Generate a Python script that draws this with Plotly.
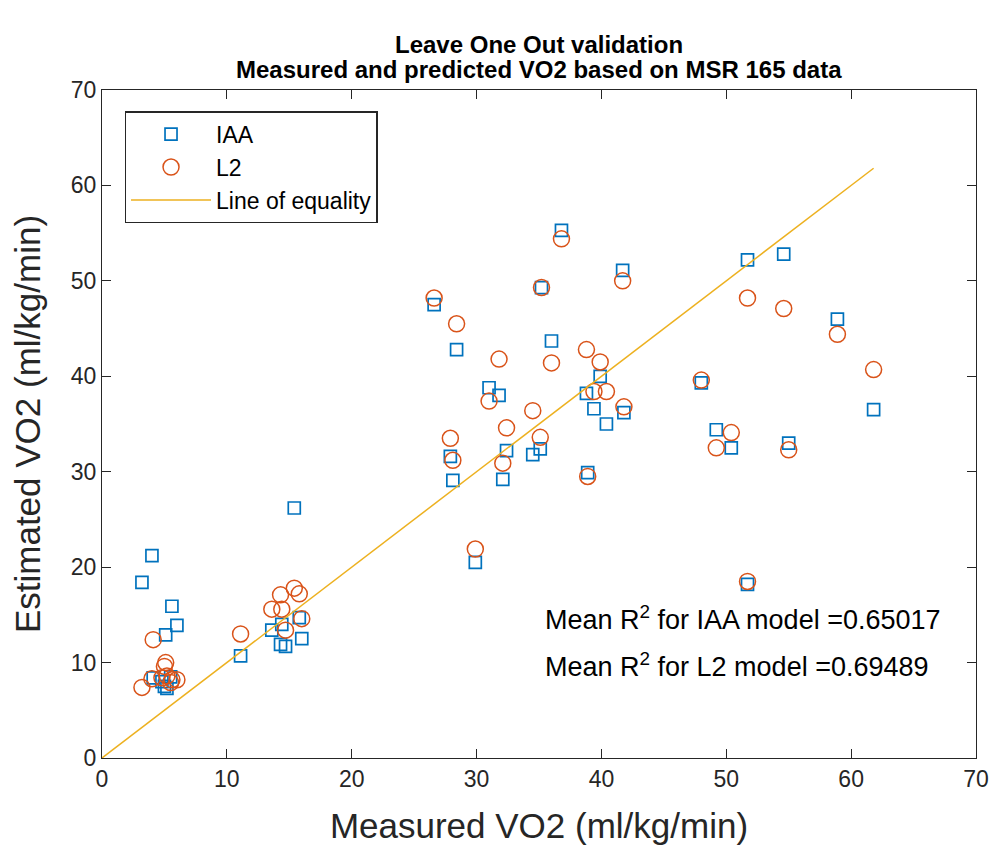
import plotly.graph_objects as go

# Measured VO2 per subject (ml/kg/min)
measured = [3.2, 4.0, 4.1, 5.1, 5.0, 5.2, 5.6, 6.0, 5.5, 4.8,
            11.1, 13.6, 14.3, 14.7, 15.4, 15.8, 16.0, 14.4,
            26.6, 28.4, 27.9, 28.1, 31.0, 31.8, 32.1, 32.4, 34.5, 35.1,
            35.2, 36.0, 36.8, 38.8, 38.9, 39.4, 39.9, 40.4, 41.7, 41.8, 29.9,
            48.0, 49.2, 50.4, 51.7, 51.7, 54.6, 55.0, 58.9, 61.8]
# Estimated VO2 by IAA model
iaa = [18.4, 21.2, 8.4, 12.9, 7.5, 7.3, 15.9, 13.9, 8.5, 8.0,
       10.7, 13.4, 11.9, 11.7, 26.2, 14.7, 12.5, 14.0,
       47.5, 42.8, 31.6, 29.1, 38.8, 38.0, 29.2, 32.2, 31.8, 32.4,
       49.3, 43.7, 55.3, 38.2, 29.9, 36.6, 40.0, 35.0, 51.1, 36.2, 20.5,
       39.3, 34.4, 32.5, 52.2, 18.2, 52.8, 33.0, 46.0, 36.5]
# Estimated VO2 by L2 model
l2 = [7.4, 8.3, 12.4, 10.0, 9.6, 8.6, 8.2, 8.2, 7.9, 8.4,
      13.0, 15.6, 17.1, 13.4, 17.8, 17.2, 14.6, 15.6,
      48.2, 45.5, 33.5, 31.2, 37.4, 41.8, 30.9, 34.6, 36.4, 33.6,
      49.3, 41.4, 54.4, 42.8, 29.5, 38.4, 41.5, 38.4, 50.0, 36.8, 21.9,
      39.6, 32.5, 34.1, 48.2, 18.5, 47.1, 32.3, 44.4, 40.7]

eq_x = [0, max(measured)]
ticks = [0, 10, 20, 30, 40, 50, 60, 70]

title_lines = ["Leave One Out validation",
               "Measured and predicted VO2 based on MSR 165 data"]
r2_texts = ["Mean R<sup>2</sup> for IAA model =0.65017",
            "Mean R<sup>2</sup> for L2 model =0.69489"]

FONT = "Liberation Sans, Arial, sans-serif"
AX = "#262626"

fig = go.Figure()
fig.add_trace(go.Scatter(x=measured, y=iaa, mode="markers", name="IAA",
                         marker=dict(symbol="square-open", size=12, color="#0072BD",
                                     line=dict(width=1.7))))
fig.add_trace(go.Scatter(x=measured, y=l2, mode="markers", name="L2",
                         marker=dict(symbol="circle-open", size=16, color="#D95319",
                                     line=dict(width=1.5))))
fig.add_trace(go.Scatter(x=eq_x, y=eq_x, mode="lines", name="Line of equality",
                         line=dict(color="#EDB120", width=1.5)))

axis_common = dict(range=[0, 70], tickvals=ticks, ticks="inside", ticklen=9,
                   tickcolor=AX, showline=True, linecolor=AX, linewidth=1.3,
                   mirror="ticks", showgrid=False, zeroline=False, automargin=False,
                   tickfont=dict(size=23, color=AX, family=FONT))

fig.update_layout(
    width=1004, height=858,
    margin=dict(l=102, r=28, t=90, b=100),
    paper_bgcolor="white", plot_bgcolor="white",
    font=dict(family=FONT, color=AX),
    xaxis=dict(title=dict(text="Measured VO2 (ml/kg/min)", font=dict(size=35, color=AX), standoff=22),
               **axis_common),
    yaxis=dict(title=dict(text="Estimated VO2 (ml/kg/min)", font=dict(size=35, color=AX), standoff=19),
               **axis_common),
    legend=dict(x=0.026, y=0.968, xanchor="left", yanchor="top",
                bordercolor=AX, borderwidth=1.3, bgcolor="white",
                font=dict(size=23, color="#000000", family=FONT),
                itemwidth=80),
    showlegend=True,
)

for i, line in enumerate(title_lines):
    fig.add_annotation(x=0.5, y=1.0674 - i * 0.0374, xref="paper", yref="paper",
                       xanchor="center", yanchor="middle", showarrow=False,
                       text="<b>" + line + "</b>",
                       font=dict(size=24, color="#000000", family=FONT))

for i, t in enumerate(r2_texts):
    fig.add_annotation(x=35.3, y=14.7 - i * 5.0, xref="x", yref="y", xanchor="left",
                       showarrow=False, text=t,
                       font=dict(size=27, color="#000000", family=FONT))

fig.write_html("out.html")
